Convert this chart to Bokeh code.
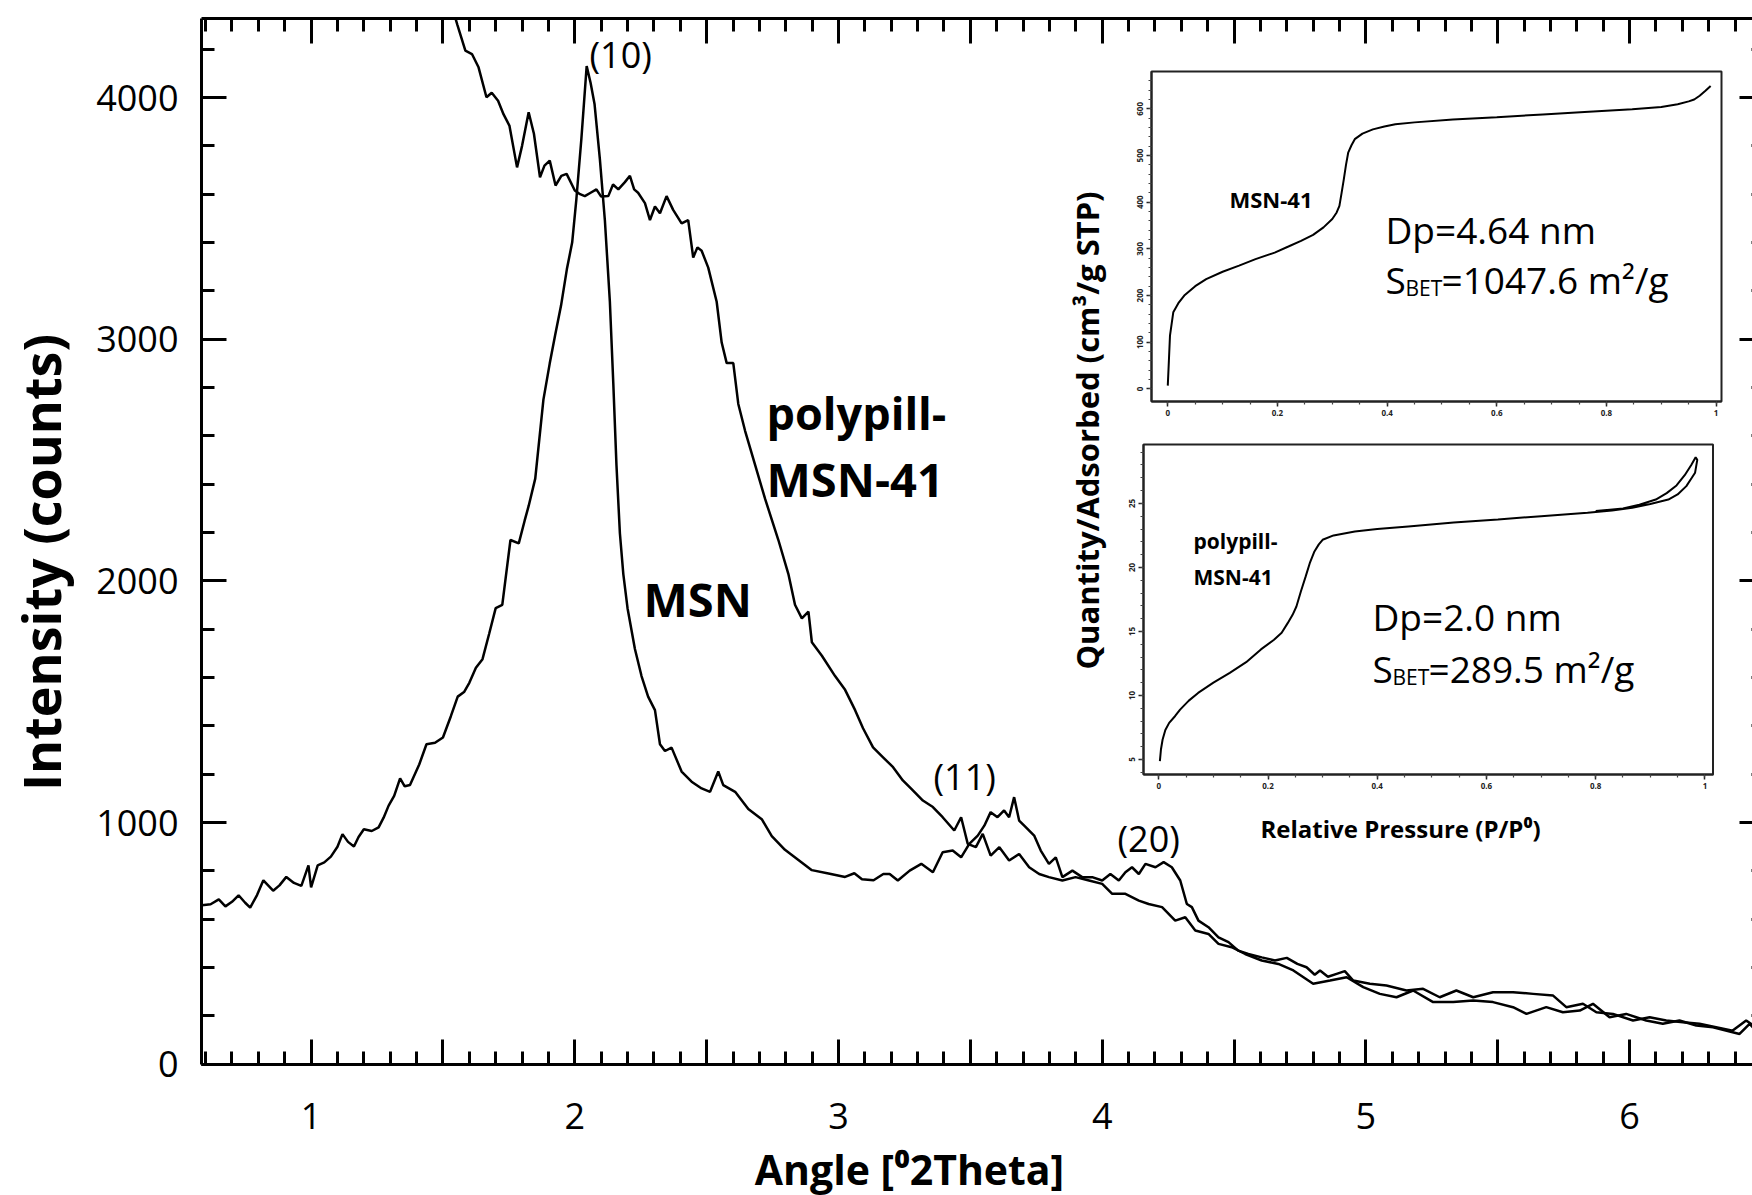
import math
from bokeh.plotting import figure
from bokeh.models import Range1d, LinearAxis, FixedTicker, Label, CustomJSTickFormatter
from bokeh.embed import file_html
from bokeh.resources import INLINE

# ---------------- data ----------------
msn_angle = [0.586, 0.619, 0.65, 0.675, 0.70, 0.725, 0.75, 0.769, 0.795, 0.819, 0.856, 0.88, 0.906, 0.935, 0.963,
             0.99, 1.0, 1.025, 1.05, 1.075, 1.10, 1.119, 1.14, 1.1625, 1.18, 1.20, 1.23, 1.256, 1.275, 1.294,
             1.315, 1.3375, 1.355, 1.375, 1.41, 1.4375, 1.47, 1.50, 1.53, 1.556, 1.58, 1.60, 1.625, 1.65, 1.675,
             1.70, 1.725, 1.756, 1.7875, 1.81, 1.825, 1.85, 1.881, 1.905, 1.925, 1.948, 1.97, 1.99, 2.006, 2.025,
             2.045, 2.06, 2.075, 2.095, 2.114, 2.133, 2.146, 2.158, 2.171, 2.184, 2.20, 2.228, 2.253, 2.278, 2.304,
             2.323, 2.342, 2.367, 2.405, 2.443, 2.481, 2.513, 2.544, 2.563, 2.608, 2.658, 2.709, 2.747, 2.797, 2.848,
             2.899, 2.962, 3.025, 3.06, 3.089, 3.133, 3.17, 3.194, 3.225, 3.27, 3.314, 3.358, 3.395, 3.433, 3.465,
             3.496, 3.528, 3.553, 3.577, 3.603, 3.628, 3.647, 3.666, 3.685, 3.71, 3.742, 3.767, 3.798, 3.824, 3.849,
             3.887, 3.924, 3.962, 4.0, 4.031, 4.063, 4.088, 4.113, 4.139, 4.164, 4.202, 4.233, 4.264, 4.296, 4.321,
             4.34, 4.365, 4.403, 4.441, 4.479, 4.516, 4.554, 4.605, 4.655, 4.70, 4.74, 4.775, 4.806, 4.826, 4.856,
             4.889, 4.92, 4.952, 5.015, 5.078, 5.154, 5.217, 5.28, 5.343, 5.407, 5.482, 5.558, 5.634, 5.71, 5.76,
             5.823, 5.874, 5.937, 6.013, 6.076, 6.139, 6.202, 6.265, 6.328, 6.391, 6.442, 6.47]
msn_counts = [658, 662, 682, 653, 672, 699, 668, 648, 700, 761, 718, 740, 775, 750, 738,
              823, 732, 823, 835, 859, 900, 952, 920, 901, 940, 972, 965, 980, 1020, 1070,
              1110, 1183, 1150, 1155, 1240, 1324, 1330, 1352, 1440, 1521, 1540, 1578, 1640, 1676, 1780,
              1887, 1901, 2169, 2155, 2250, 2310, 2423, 2750, 2900, 3014, 3140, 3290, 3400, 3580, 3830,
              4130, 4060, 3972, 3746, 3493, 3155, 2817, 2479, 2197, 2028, 1887, 1718, 1606, 1521, 1465,
              1324, 1296, 1310, 1211, 1169, 1141, 1127, 1211, 1155, 1127, 1056, 1014, 944, 887, 845,
              803, 789, 775, 790, 765, 761, 787, 787, 760, 801, 829, 794, 877, 884, 856,
              912, 946, 987, 1043, 1022, 1050, 1022, 1105, 1008, 981, 946, 884, 829, 856, 774,
              801, 774, 774, 760, 787, 760, 794, 815, 787, 829, 815, 836, 815, 760, 663,
              650, 594, 567, 525, 505, 470, 456, 442, 429, 440, 415, 401, 370, 388, 362,
              374, 385, 346, 333, 326, 305, 312, 277, 305, 277, 298, 298, 291, 284, 236,
              250, 215, 208, 181, 194, 181, 174, 167, 153, 139, 181, 160]

poly_angle = [1.548, 1.555, 1.585, 1.61, 1.635, 1.665, 1.685, 1.709, 1.73, 1.752, 1.781, 1.80, 1.825, 1.845, 1.868,
              1.885, 1.905, 1.927, 1.949, 1.969, 2.0, 2.02, 2.038, 2.06, 2.082, 2.10, 2.127, 2.145, 2.165, 2.19,
              2.209, 2.225, 2.24, 2.266, 2.285, 2.304, 2.323, 2.348, 2.373, 2.405, 2.43, 2.449, 2.465, 2.481, 2.506,
              2.538, 2.557, 2.576, 2.601, 2.62, 2.646, 2.684, 2.722, 2.772, 2.81, 2.835, 2.861, 2.886, 2.899, 2.937,
              2.987, 3.025, 3.063, 3.093, 3.131, 3.169, 3.207, 3.244, 3.282, 3.32, 3.358, 3.395, 3.439, 3.465, 3.49,
              3.521, 3.547, 3.577, 3.61, 3.647, 3.685, 3.723, 3.761, 3.798, 3.849, 3.899, 3.95, 4.0, 4.038, 4.088,
              4.139, 4.176, 4.227, 4.277, 4.315, 4.353, 4.403, 4.441, 4.491, 4.542, 4.605, 4.668, 4.725, 4.80, 4.864,
              4.927, 4.99, 5.053, 5.116, 5.179, 5.255, 5.331, 5.407, 5.482, 5.558, 5.609, 5.684, 5.747, 5.811, 5.861,
              5.924, 5.987, 6.063, 6.126, 6.189, 6.253, 6.316, 6.417, 6.455, 6.47]
poly_counts = [4325, 4300, 4194, 4180, 4125, 4001, 4020, 3987, 3930, 3884, 3711, 3800, 3939, 3850, 3670,
               3718, 3739, 3636, 3676, 3684, 3615, 3600, 3592, 3606, 3620, 3590, 3592, 3640, 3620, 3650,
               3676, 3620, 3606, 3563, 3493, 3549, 3521, 3592, 3535, 3479, 3493, 3338, 3380, 3366, 3296,
               3155, 2986, 2901, 2901, 2732, 2620, 2479, 2338, 2169, 2028, 1901, 1845, 1873, 1746, 1690,
               1606, 1549, 1465, 1390, 1311, 1270, 1229, 1174, 1133, 1091, 1064, 1022, 967, 1022, 912,
               898, 953, 863, 898, 843, 870, 815, 787, 774, 760, 774, 760, 746, 705, 705,
               677, 663, 650, 594, 608, 553, 539, 498, 484, 456, 429, 415, 388, 333, 346,
               360, 319, 291, 277, 305, 257, 257, 264, 257, 236, 208, 236, 215, 222, 250,
               194, 208, 181, 167, 181, 160, 153, 125, 167, 150]

x_major = [1, 1.5, 2, 2.5, 3, 3.5, 4, 4.5, 5, 5.5, 6]
x_minor = [round(0.6 + 0.1 * i, 1) for i in range(59)]
y_major = [0, 1000, 2000, 3000, 4000]
y_minor = [200 * i for i in range(22)]

# inset 1: MSN-41 isotherm
iso1_p = [0.0, 0.002, 0.004, 0.01, 0.02, 0.03, 0.05, 0.07, 0.10, 0.13, 0.16, 0.195, 0.22, 0.243, 0.265, 0.284,
          0.30, 0.308, 0.313, 0.317, 0.321, 0.325, 0.329, 0.335, 0.341, 0.355, 0.374, 0.395, 0.415, 0.45, 0.52,
          0.60, 0.684, 0.76, 0.847, 0.90, 0.93, 0.95, 0.96, 0.97, 0.98, 0.99]
iso1_q = [7, 60, 114, 164, 185, 200, 220, 235, 251, 264, 278, 292, 305, 317, 330, 346,
          364, 378, 392, 420, 449, 480, 506, 522, 535, 547, 556, 562, 567, 571, 577,
          582, 588, 593, 599, 604, 610, 616, 620, 628, 638, 649]
iso1_xticks = [0, 0.2, 0.4, 0.6, 0.8, 1]
iso1_yticks = [0, 100, 200, 300, 400, 500, 600]

# inset 2: polypill-MSN-41 isotherm (adsorption + desorption)
iso2_p = [0.002, 0.004, 0.007, 0.012, 0.019, 0.03, 0.039, 0.055, 0.072, 0.10, 0.13, 0.16, 0.187, 0.211, 0.225,
          0.236, 0.245, 0.252, 0.26, 0.269, 0.277, 0.285, 0.293, 0.30, 0.32, 0.359, 0.40, 0.457, 0.54, 0.621,
          0.70, 0.785, 0.83, 0.867, 0.90, 0.933, 0.95, 0.966, 0.976, 0.982, 0.986,
          0.983, 0.975, 0.963, 0.948, 0.93, 0.91, 0.88, 0.85, 0.80]
iso2_q = [4.87, 5.8, 6.56, 7.3, 7.86, 8.4, 8.9, 9.6, 10.2, 11.0, 11.77, 12.6, 13.6, 14.35, 14.9,
          15.65, 16.3, 16.95, 18.1, 19.3, 20.4, 21.25, 21.8, 22.16, 22.5, 22.8, 23.0, 23.2, 23.5, 23.75,
          24.0, 24.27, 24.45, 24.66, 24.95, 25.3, 25.7, 26.35, 27.0, 27.4, 28.4,
          28.6, 28.0, 27.2, 26.4, 25.8, 25.3, 24.9, 24.6, 24.4]
iso2_xticks = [0, 0.2, 0.4, 0.6, 0.8, 1]
iso2_yticks = [5, 10, 15, 20, 25]

# ---------------- layout (picture px) ----------------
W, H = 1752, 1195
X1_PX, PXU = 310.6, 263.7        # px of angle 1, px per degree
Y0_PY, PYU = 1063.7, 0.24167     # px of 0 counts, px per count
PL, PR, PT = 201, 1764, 18       # plot box edges (right edge just past the picture)


def dx(px):
    return 1 + (px - X1_PX) / PXU


def dy(py):
    return (Y0_PY - py) / PYU


X_LO, X_HI = dx(PL), dx(PR)
Y_LO, Y_HI = 0, dy(PT)


def xr(d0, d1, p0, p1):
    k = (d1 - d0) / (p1 - p0)
    return Range1d(d0 - p0 * k, d1 + (W - p1) * k)


def yr(d0, d1, ptop, pbot):
    k = (d1 - d0) / (pbot - ptop)
    return Range1d(d0 - (H - pbot) * k, d1 + ptop * k)


p = figure(width=W, height=H, output_backend="svg", toolbar_location=None,
           x_range=Range1d(dx(0), dx(W)), y_range=Range1d(dy(H), dy(0)),
           x_axis_type=None, y_axis_type=None,
           min_border_left=0, min_border_right=0, min_border_top=0, min_border_bottom=0)
if p.title is not None:
    p.title.visible = False
p.outline_line_color = None
p.background_fill_color = "white"
p.border_fill_color = "white"

FONT = "Open Sans"
INT_FMT = CustomJSTickFormatter(code="return (Math.abs(tick - Math.round(tick)) < 1e-9) ? String(Math.round(tick)) : '';")
BLANK_FMT = CustomJSTickFormatter(code="return '';")


def main_axis(side, loc, bounds, ticks, minor, fmt=None, standoff=0):
    ax = LinearAxis(ticker=FixedTicker(ticks=ticks, minor_ticks=minor), fixed_location=loc, bounds=bounds)
    if fmt is not None:
        ax.formatter = fmt
    ax.axis_line_width = 3
    ax.axis_line_color = "black"
    ax.major_tick_line_width = 3
    ax.minor_tick_line_width = 3
    ax.major_tick_line_color = "black"
    ax.minor_tick_line_color = "black"
    ax.major_tick_in = 25
    ax.major_tick_out = 0
    ax.minor_tick_in = 13
    ax.minor_tick_out = 0
    ax.major_label_text_font = FONT
    ax.major_label_text_font_size = "36px"
    ax.major_label_text_color = "black"
    ax.major_label_standoff = standoff
    p.add_layout(ax, side)
    return ax


main_axis("below", Y_LO, (X_LO, X_HI), x_major, x_minor, INT_FMT, 39)
main_axis("left", X_LO, (Y_LO, Y_HI), y_major, y_minor, None, 23)
main_axis("above", Y_HI, (X_LO, X_HI), x_major, x_minor, BLANK_FMT)
main_axis("right", X_HI, (Y_LO, Y_HI), y_major, y_minor, BLANK_FMT)

# main curves
p.line(msn_angle, msn_counts, line_color="black", line_width=2.5)
p.line(poly_angle, poly_counts, line_color="black", line_width=2.5)

# ---------------- insets ----------------
IN1 = dict(x=(-0.0297, 1.0098), y=(-27, 680), px=(1151, 1721), py=(71, 401))
IN2 = dict(x=(-0.028, 1.0148), y=(3.83, 29.6), px=(1143, 1712.5), py=(444, 774))

p.extra_x_ranges = {"in1x": xr(*IN1["x"], *IN1["px"]), "in2x": xr(*IN2["x"], *IN2["px"])}
p.extra_y_ranges = {"in1y": yr(*IN1["y"], *IN1["py"]), "in2y": yr(*IN2["y"], *IN2["py"])}

P_FMT = CustomJSTickFormatter(code="return String(Math.round(tick * 10) / 10);")


def inset(name, cfg, xticks, xminor, yticks, yminor):
    xn, yn = name + "x", name + "y"
    p.quad(left=[cfg["x"][0]], right=[cfg["x"][1]], bottom=[cfg["y"][0]], top=[cfg["y"][1]],
           x_range_name=xn, y_range_name=yn, fill_color="white", line_color="#222222", line_width=2)
    bx = LinearAxis(x_range_name=xn, y_range_name=yn, fixed_location=cfg["y"][0], bounds=cfg["x"],
                    ticker=FixedTicker(ticks=xticks, minor_ticks=xminor), formatter=P_FMT)
    ly = LinearAxis(x_range_name=xn, y_range_name=yn, fixed_location=cfg["x"][0], bounds=cfg["y"],
                    ticker=FixedTicker(ticks=yticks, minor_ticks=yminor))
    for a in (bx, ly):
        a.axis_line_width = 2
        a.axis_line_color = "#222222"
        a.major_tick_in = 0
        a.major_tick_out = 5
        a.minor_tick_in = 0
        a.minor_tick_out = 3
        a.major_tick_line_width = 1.5
        a.minor_tick_line_width = 1.2
        a.major_tick_line_color = "#222222"
        a.minor_tick_line_color = "#444444"
        a.major_label_text_font = FONT
        a.major_label_text_font_style = "bold"
        a.major_label_text_font_size = "8px"
        a.major_label_text_color = "#222222"
        a.major_label_standoff = 3
    ly.major_label_orientation = "vertical"
    p.add_layout(bx, "below")
    p.add_layout(ly, "left")


inset("in1", IN1, iso1_xticks, [round(0.05 * i, 2) for i in range(21)],
      iso1_yticks, [20 * i for i in range(34)])
inset("in2", IN2, iso2_xticks, [round(0.05 * i, 2) for i in range(21)],
      iso2_yticks, [i for i in range(4, 30)])

p.line(iso1_p, iso1_q, x_range_name="in1x", y_range_name="in1y", line_color="black", line_width=2)
p.line(iso2_p, iso2_q, x_range_name="in2x", y_range_name="in2y", line_color="black", line_width=2)


# ---------------- texts ----------------
def lab(px, py, text, size, bold=False, align="left", baseline="alphabetic", angle=0.0):
    p.add_layout(Label(x=dx(px), y=dy(py), text=text, text_font=FONT, text_font_size=f"{size}px",
                       text_font_style="bold" if bold else "normal", text_align=align,
                       text_baseline=baseline, angle=angle, text_color="black"))


lab(40, 562, "Intensity (counts)", 52, bold=True, align="center", baseline="middle", angle=math.pi / 2)
lab(909, 1168, "Angle [\u20702Theta]", 41, bold=True, align="center", baseline="middle")

lab(589, 54, "(10)", 36, baseline="middle")
lab(933, 776, "(11)", 36, baseline="middle")
lab(1117, 838, "(20)", 36, baseline="middle")

lab(766, 412, "polypill-", 45, bold=True)
lab(766, 478, "MSN-41", 47, bold=True)
lab(643, 598, "MSN", 47, bold=True)

lab(1229, 198, "MSN-41", 22, bold=True)
lab(1385, 229, "Dp=4.64 nm", 37)
lab(1385, 279, "S", 37)
lab(1405, 287, "BET", 21)
lab(1441, 279, "=1047.6 m\u00b2/g", 37)

lab(1193, 540, "polypill-", 21, bold=True)
lab(1193, 576, "MSN-41", 21, bold=True)
lab(1372, 616, "Dp=2.0 nm", 37)
lab(1372, 668, "S", 37)
lab(1392, 676, "BET", 21)
lab(1428, 668, "=289.5 m\u00b2/g", 37)

lab(1260, 828, "Relative Pressure (P/P\u2070)", 24, bold=True, baseline="middle")
lab(1086, 430, "Quantity/Adsorbed (cm\u00b3/g STP)", 31, bold=True, align="center", baseline="middle",
    angle=math.pi / 2)

open("out.html", "w").write(file_html(p, INLINE))
